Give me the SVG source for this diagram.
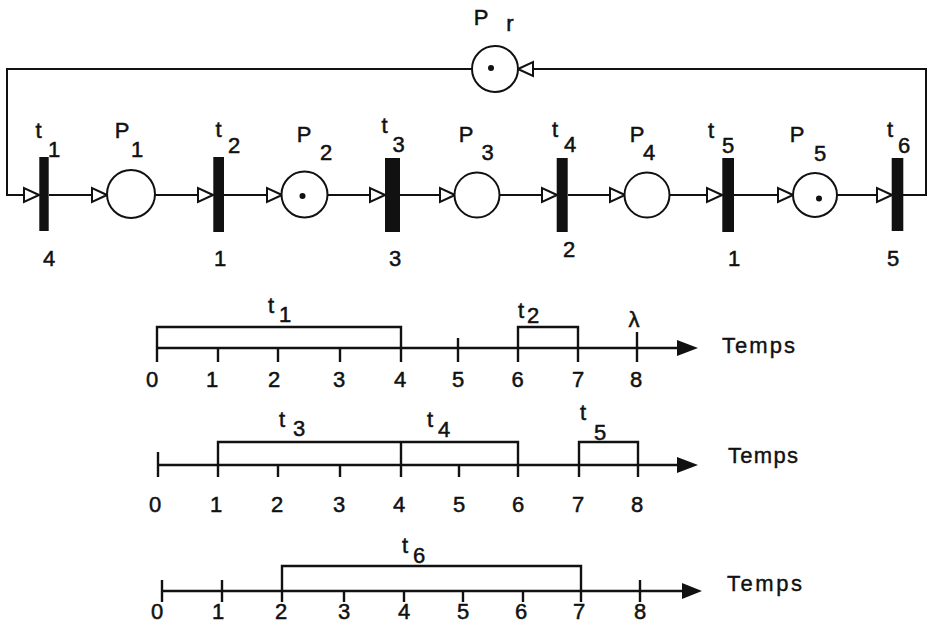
<svg xmlns="http://www.w3.org/2000/svg" width="931" height="632" viewBox="0 0 931 632">
  <style>
    .bg { fill: #ffffff; }
    .lbl { font-family: "Liberation Sans", Arial, sans-serif; font-size: 22px; fill: #111; stroke: #111; stroke-width: 0.5; text-anchor: middle; }
    .tmp { font-family: "Liberation Sans", Arial, sans-serif; font-size: 22px; fill: #111; stroke: #111; stroke-width: 0.4; }
    .place { fill: #ffffff; stroke: #111; stroke-width: 2; }
    .token { fill: #111; }
    .bar { fill: #111; }
    .arc { fill: none; stroke: #111; stroke-width: 2; marker-end: url(#open); }
    .ax { fill: none; stroke: #111; stroke-width: 2.4; }
    .head { fill: #111; }
  </style>
  <defs>
    <marker id="open" markerUnits="userSpaceOnUse" viewBox="-18 -9 20 18" markerWidth="20" markerHeight="18" refX="0" refY="0" orient="auto">
      <path d="M0,0 L-15,-7 L-15,7 Z" fill="#ffffff" stroke="#111" stroke-width="2" stroke-linejoin="miter"/>
    </marker>
  </defs>
  <rect class="bg" x="0" y="0" width="931" height="632"/>

  <!-- arcs of the Petri net -->
  <g id="connectors">
    <path class="arc" d="M472,69 H7 V195 H39"/>
    <path class="arc" d="M49,195 H107"/>
    <path class="arc" d="M155,195 H213"/>
    <path class="arc" d="M224,195 H282"/>
    <path class="arc" d="M327,195 H385"/>
    <path class="arc" d="M400,195 H455"/>
    <path class="arc" d="M499,195 H557"/>
    <path class="arc" d="M568,195 H625"/>
    <path class="arc" d="M669,195 H722"/>
    <path class="arc" d="M734,195 H793"/>
    <path class="arc" d="M837,195 H892"/>
    <path class="arc" d="M903,195 H926 V69 H518"/>
  </g>

  <!-- places -->
  <g id="Pr">
    <circle class="place" cx="495" cy="69" r="23"/>
    <circle class="token" cx="491" cy="68" r="3"/>
    <text class="lbl" x="481" y="25">P</text>
    <text class="lbl" x="510" y="31">r</text>
  </g>
  <g id="P1">
    <circle class="place" cx="131" cy="194" r="24"/>
    <text class="lbl" x="122" y="138">P</text>
    <text class="lbl" x="137" y="157">1</text>
  </g>
  <g id="P2">
    <circle class="place" cx="304.5" cy="194.5" r="23"/>
    <circle class="token" cx="302.5" cy="196" r="3"/>
    <text class="lbl" x="304" y="142">P</text>
    <text class="lbl" x="326" y="160">2</text>
  </g>
  <g id="P3">
    <circle class="place" cx="477" cy="195" r="22.5"/>
    <text class="lbl" x="466" y="142">P</text>
    <text class="lbl" x="487.5" y="160">3</text>
  </g>
  <g id="P4">
    <circle class="place" cx="647" cy="195" r="22.5"/>
    <text class="lbl" x="637" y="142">P</text>
    <text class="lbl" x="649" y="160">4</text>
  </g>
  <g id="P5">
    <circle class="place" cx="815" cy="195" r="22"/>
    <circle class="token" cx="819" cy="198.5" r="3"/>
    <text class="lbl" x="797" y="142">P</text>
    <text class="lbl" x="820" y="161">5</text>
  </g>

  <!-- transitions with their durations -->
  <g id="t1">
    <rect class="bar" x="39.3" y="157" width="9.4" height="74"/>
    <text class="lbl" x="38.5" y="138">t</text>
    <text class="lbl" x="54" y="157">1</text>
    <text class="lbl" x="49" y="266">4</text>
  </g>
  <g id="t2">
    <rect class="bar" x="213.3" y="157" width="10.7" height="75"/>
    <text class="lbl" x="218.5" y="137">t</text>
    <text class="lbl" x="234" y="153">2</text>
    <text class="lbl" x="220" y="266">1</text>
  </g>
  <g id="t3">
    <rect class="bar" x="385" y="158" width="15" height="74"/>
    <text class="lbl" x="384.5" y="133">t</text>
    <text class="lbl" x="398.5" y="152">3</text>
    <text class="lbl" x="395" y="266">3</text>
  </g>
  <g id="t4">
    <rect class="bar" x="556.7" y="158" width="11" height="74"/>
    <text class="lbl" x="555" y="137">t</text>
    <text class="lbl" x="570" y="152">4</text>
    <text class="lbl" x="569" y="257">2</text>
  </g>
  <g id="t5">
    <rect class="bar" x="722.3" y="158" width="11.7" height="74"/>
    <text class="lbl" x="711" y="138">t</text>
    <text class="lbl" x="728" y="153">5</text>
    <text class="lbl" x="734" y="266">1</text>
  </g>
  <g id="t6">
    <rect class="bar" x="891.7" y="158" width="11.6" height="73"/>
    <text class="lbl" x="890" y="137">t</text>
    <text class="lbl" x="904" y="153">6</text>
    <text class="lbl" x="893" y="266">5</text>
  </g>

  <!-- time chart: t1, t2 -->
  <g id="chart1">
    <path class="ax" d="M157,348 H684"/>
    <polygon class="head" points="698,348 677,340 677,356"/>
    <path class="ax" d="M157,362 V327 H401 V362"/>
    <path class="ax" d="M218,348 V362 M278,348 V362 M340,348 V362 M458,338 V362 M637,332 V362"/>
    <path class="ax" d="M518,362 V327 H578 V362"/>
    <text class="lbl" x="271" y="313">t</text>
    <text class="lbl" x="285" y="322">1</text>
    <text class="lbl" x="521" y="318">t</text>
    <text class="lbl" x="533" y="323">2</text>
    <text class="lbl" x="634" y="327">λ</text>
    <text class="lbl" x="152" y="387">0</text>
    <text class="lbl" x="212" y="387">1</text>
    <text class="lbl" x="274" y="387">2</text>
    <text class="lbl" x="339" y="387">3</text>
    <text class="lbl" x="400" y="387">4</text>
    <text class="lbl" x="458" y="387">5</text>
    <text class="lbl" x="517.5" y="387">6</text>
    <text class="lbl" x="578" y="387">7</text>
    <text class="lbl" x="636" y="387">8</text>
    <text class="tmp" x="722" y="353" textLength="73">Temps</text>
  </g>

  <!-- time chart: t3, t4, t5 -->
  <g id="chart2">
    <path class="ax" d="M158,465 H684"/>
    <polygon class="head" points="698,465 677,457 677,473"/>
    <path class="ax" d="M158,452 V477"/>
    <path class="ax" d="M218,477 V442 H518 V477 M401,442 V477"/>
    <path class="ax" d="M278,465 V477 M340,465 V477 M459,465 V477"/>
    <path class="ax" d="M579,477 V442 H638 V477"/>
    <text class="lbl" x="282" y="427">t</text>
    <text class="lbl" x="299" y="436">3</text>
    <text class="lbl" x="430" y="427">t</text>
    <text class="lbl" x="444" y="437">4</text>
    <text class="lbl" x="583" y="420">t</text>
    <text class="lbl" x="600" y="440">5</text>
    <text class="lbl" x="155" y="512">0</text>
    <text class="lbl" x="216" y="512">1</text>
    <text class="lbl" x="277" y="512">2</text>
    <text class="lbl" x="339" y="512">3</text>
    <text class="lbl" x="399" y="512">4</text>
    <text class="lbl" x="459" y="512">5</text>
    <text class="lbl" x="518" y="512">6</text>
    <text class="lbl" x="578" y="512">7</text>
    <text class="lbl" x="637" y="512">8</text>
    <text class="tmp" x="728" y="463" textLength="70">Temps</text>
  </g>

  <!-- time chart: t6 -->
  <g id="chart3">
    <path class="ax" d="M162,591 H688"/>
    <polygon class="head" points="702,591 682,583 682,599"/>
    <path class="ax" d="M162,580 V602 M222,580 V602 M640,580 V602"/>
    <path class="ax" d="M282,602 V566 H581 V602"/>
    <path class="ax" d="M344,591 V602 M404,591 V602 M463,591 V602 M523,591 V602"/>
    <text class="lbl" x="405" y="553">t</text>
    <text class="lbl" x="419" y="563">6</text>
    <text class="lbl" x="157" y="619">0</text>
    <text class="lbl" x="218" y="619">1</text>
    <text class="lbl" x="281" y="619">2</text>
    <text class="lbl" x="344" y="619">3</text>
    <text class="lbl" x="404" y="619">4</text>
    <text class="lbl" x="463" y="619">5</text>
    <text class="lbl" x="521" y="619">6</text>
    <text class="lbl" x="579" y="619">7</text>
    <text class="lbl" x="640" y="619">8</text>
    <text class="tmp" x="727" y="591" textLength="75">Temps</text>
  </g>
</svg>
